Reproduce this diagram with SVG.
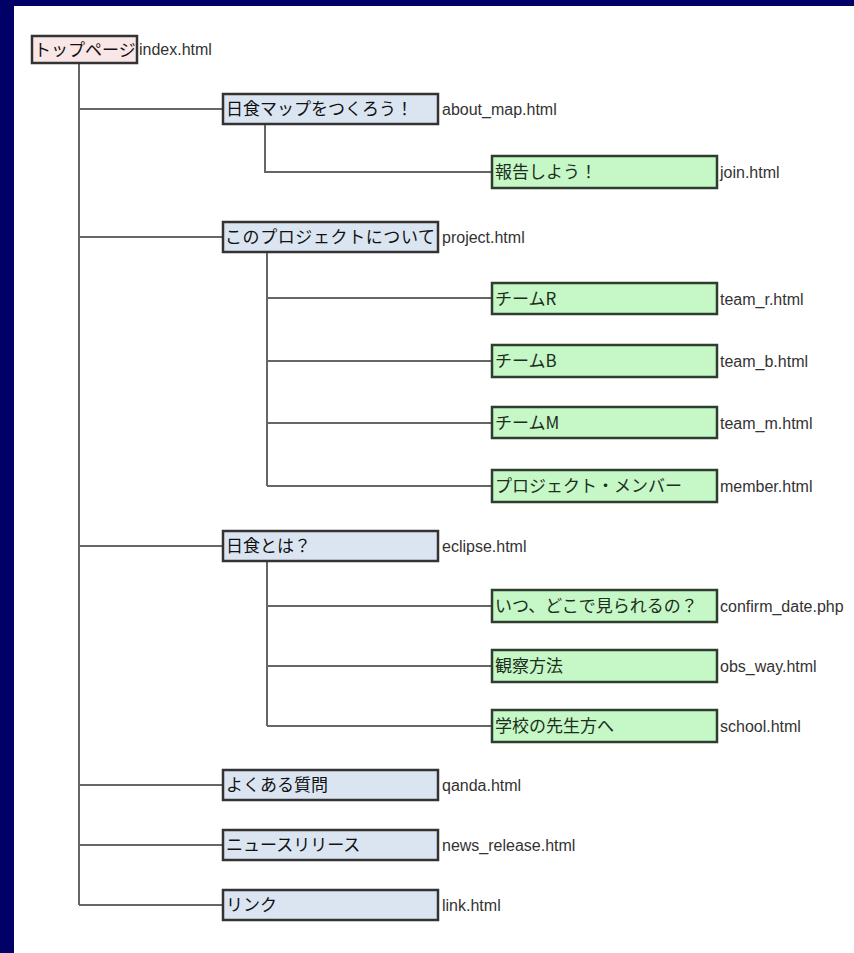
<svg xmlns="http://www.w3.org/2000/svg" width="854" height="953" viewBox="0 0 854 953">
<style>
.jp{font-family:"Noto Sans CJK JP","Noto Sans CJK SC",sans-serif;font-size:17px;fill:#111}
.g{fill:#1c2e1c}
.url{font-family:"Liberation Sans Narrow","Liberation Sans",Arial,sans-serif;font-size:16px;fill:#333}
.top{fill:#f9e7e7;stroke:#333;stroke-width:2.5}
.l1{fill:#dbe5f2;stroke:#333;stroke-width:2.5}
.l2{fill:#c6f7c6;stroke:#2e3e2e;stroke-width:2.5}
.ln{stroke:#666;stroke-width:2;fill:none}
</style>
<rect x="0" y="0" width="854" height="953" fill="#ffffff"/>
<rect x="0" y="0" width="854" height="6" fill="#000066"/>
<rect x="0" y="0" width="14" height="953" fill="#000066"/>
<g id="connectors">
<path class="ln" d="M79 63V905"/>
<path class="ln" d="M79 109H223M79 237H223M79 546H223M79 785H223M79 845H223M79 905H223"/>
<path class="ln" d="M265 124V172H492"/>
<path class="ln" d="M267 252V486M267 298H492M267 361H492M267 423H492M267 486H492"/>
<path class="ln" d="M267 561V726M267 606H492M267 666H492M267 726H492"/>
</g>
<g id="n-index"><rect class="top" x="32" y="36" width="105" height="27"/><text class="jp" x="34" y="56">トップページ</text><text class="url" x="139" y="55">index.html</text></g>
<g id="n-about"><rect class="l1" x="223" y="94" width="215" height="30"/><text class="jp" x="226" y="115">日食マップをつくろう！</text><text class="url" x="442" y="115">about_map.html</text></g>
<g id="n-join"><rect class="l2" x="492" y="156" width="225" height="32"/><text class="jp g" x="495" y="178">報告しよう！</text><text class="url" x="720" y="178">join.html</text></g>
<g id="n-project"><rect class="l1" x="223" y="222" width="215" height="30"/><text class="jp" x="225" y="243" textLength="210">このプロジェクトについて</text><text class="url" x="442" y="243">project.html</text></g>
<g id="n-teamr"><rect class="l2" x="492" y="283" width="225" height="31"/><text class="jp g" x="495" y="305">チームR</text><text class="url" x="720" y="305">team_r.html</text></g>
<g id="n-teamb"><rect class="l2" x="492" y="345" width="225" height="32"/><text class="jp g" x="495" y="367">チームB</text><text class="url" x="720" y="367">team_b.html</text></g>
<g id="n-teamm"><rect class="l2" x="492" y="407" width="225" height="31"/><text class="jp g" x="495" y="429">チームM</text><text class="url" x="720" y="429">team_m.html</text></g>
<g id="n-member"><rect class="l2" x="492" y="470" width="225" height="32"/><text class="jp g" x="495" y="492">プロジェクト・メンバー</text><text class="url" x="720" y="492">member.html</text></g>
<g id="n-eclipse"><rect class="l1" x="223" y="531" width="215" height="30"/><text class="jp" x="226" y="552">日食とは？</text><text class="url" x="442" y="552">eclipse.html</text></g>
<g id="n-confirm"><rect class="l2" x="492" y="590" width="225" height="32"/><text class="jp g" x="495" y="612">いつ、どこで見られるの？</text><text class="url" x="720" y="612">confirm_date.php</text></g>
<g id="n-obs"><rect class="l2" x="492" y="650" width="225" height="32"/><text class="jp g" x="495" y="672">観察方法</text><text class="url" x="720" y="672">obs_way.html</text></g>
<g id="n-school"><rect class="l2" x="492" y="710" width="225" height="32"/><text class="jp g" x="495" y="732">学校の先生方へ</text><text class="url" x="720" y="732">school.html</text></g>
<g id="n-qanda"><rect class="l1" x="223" y="770" width="215" height="30"/><text class="jp" x="226" y="791">よくある質問</text><text class="url" x="442" y="791">qanda.html</text></g>
<g id="n-news"><rect class="l1" x="223" y="830" width="215" height="30"/><text class="jp" x="226" y="851">ニュースリリース</text><text class="url" x="442" y="851">news_release.html</text></g>
<g id="n-link"><rect class="l1" x="223" y="890" width="215" height="30"/><text class="jp" x="226" y="911">リンク</text><text class="url" x="442" y="911">link.html</text></g>
</svg>
